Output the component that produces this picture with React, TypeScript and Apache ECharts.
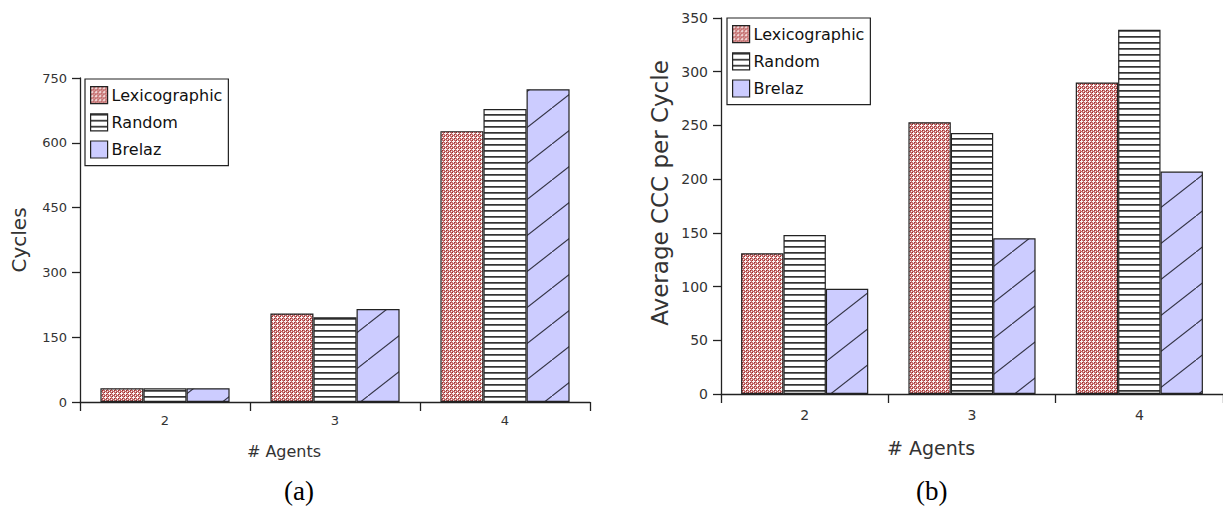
import React, { useEffect, useRef } from 'react';
import * as echarts from 'echarts';

// ---------- data ----------
const categories = ['2', '3', '4'];
const seriesNames = ['Lexicographic', 'Random', 'Brelaz'];

// (a) Cycles
const cyclesLexicographic = [32, 205, 627];
const cyclesRandom = [32, 196, 678];
const cyclesBrelaz = [32, 215, 724];
const cyclesAxisMax = 750;
const cyclesAxisStep = 150;

// (b) Average CCC per Cycle
const cccLexicographic = [131, 253, 290];
const cccRandom = [148, 243, 339];
const cccBrelaz = [98, 145, 207];
const cccAxisMax = 350;
const cccAxisStep = 50;

const panelCaptions = ['(a)', '(b)'];
const xAxisTitle = '# Agents';
const yAxisTitles = ['Cycles', 'Average CCC per Cycle'];

const FONT = 'DejaVu Sans';

function makeTile(w: number, h: number, draw: (ctx: CanvasRenderingContext2D) => void) {
  const c = document.createElement('canvas');
  c.width = w;
  c.height = h;
  const ctx = c.getContext('2d') as CanvasRenderingContext2D;
  draw(ctx);
  return { image: c.toDataURL(), repeat: 'repeat', imageWidth: w, imageHeight: h };
}

function buildPatterns() {
  const lex = makeTile(4, 4, (ctx) => {
    ctx.fillStyle = '#c36a6a';
    ctx.fillRect(0, 0, 4, 4);
    ctx.fillStyle = '#a22a2a';
    ctx.fillRect(0, 0, 1, 1);
    ctx.fillRect(2, 2, 1, 1);
    ctx.fillStyle = '#fbf2f2';
    const pts = [
      [1, 0], [0, 1], [1, 1], [2, 1], [1, 2], [3, 3],
    ];
    pts.forEach(([x, y]) => ctx.fillRect(x, y, 1, 1));
  });
  const random = makeTile(6, 6, (ctx) => {
    ctx.fillStyle = '#ffffff';
    ctx.fillRect(0, 0, 6, 6);
    ctx.fillStyle = '#333333';
    ctx.fillRect(0, 0, 6, 1);
    ctx.fillStyle = '#6a6a6a';
    ctx.fillRect(0, 1, 6, 1);
  });
  const brelaz = makeTile(46, 36, (ctx) => {
    ctx.fillStyle = '#ccccff';
    ctx.fillRect(0, 0, 46, 36);
    ctx.strokeStyle = '#333344';
    ctx.lineWidth = 1.1;
    ctx.beginPath();
    ctx.moveTo(-4, 39.13);
    ctx.lineTo(50, -3.13);
    ctx.stroke();
  });
  return { lex, random, brelaz };
}

export default function App() {
  const ref = useRef<HTMLDivElement>(null);

  useEffect(() => {
    if (!ref.current) return;
    const chart = echarts.init(ref.current, null, { renderer: 'svg' });
    const p = buildPatterns();
    const fills = [p.lex, p.random, p.brelaz];
    const legendFills = [p.lex, p.random, '#ccccff'];

    const axisLineStyle = { color: '#222', width: 1.3 };

    const legendFor = (left: number, top: number) => ({
      orient: 'vertical',
      left,
      top,
      padding: [7, 6, 7, 5],
      itemGap: 9,
      itemWidth: 17,
      itemHeight: 17,
      borderColor: '#222',
      borderWidth: 1.2,
      backgroundColor: '#fff',
      selectedMode: false,
      textStyle: { fontFamily: FONT, fontSize: 16, color: '#111', lineHeight: 17, padding: [0, 0, 0, -1] },
      data: seriesNames.map((n, i) => ({
        name: n,
        icon: 'rect',
        itemStyle: { color: legendFills[i], borderColor: '#222', borderWidth: 1.2 },
      })),
    });

    const makeSeries = (gridIdx: number, values: number[][]) =>
      values.map((v, i) => ({
        name: seriesNames[i],
        type: 'bar',
        xAxisIndex: gridIdx,
        yAxisIndex: gridIdx,
        data: v,
        barGap: '0%',
        barCategoryGap: '24%',
        itemStyle: { color: fills[i], borderColor: '#222', borderWidth: 1.2 },
        emphasis: { disabled: true },
      }));

    const option = {
      animation: false,
      backgroundColor: '#fff',
      legend: [legendFor(85, 79), legendFor(727, 18)],
      grid: [
        { left: 80, top: 78, width: 510, height: 324 },
        { left: 721, top: 18, width: 502, height: 376 },
      ],
      xAxis: [0, 1].map((g) => ({
        type: 'category',
        gridIndex: g,
        data: categories,
        boundaryGap: true,
        name: xAxisTitle,
        nameLocation: 'middle',
        nameGap: g === 0 ? 41 : 44,
        nameTextStyle: {
          fontFamily: FONT,
          fontSize: g === 0 ? 16 : 19,
          color: '#333',
          padding: g === 0 ? [0, 102, 0, 0] : [0, 82, 0, 0],
        },
        axisLine: { onZero: false, lineStyle: axisLineStyle },
        axisTick: { show: true, length: 9, lineStyle: axisLineStyle },
        axisLabel: { fontFamily: FONT, fontSize: g === 0 ? 13 : 14, color: '#333', margin: g === 0 ? 12 : 14 },
        splitLine: { show: false },
      })),
      yAxis: [0, 1].map((g) => ({
        type: 'value',
        gridIndex: g,
        min: 0,
        max: g === 0 ? cyclesAxisMax : cccAxisMax,
        interval: g === 0 ? cyclesAxisStep : cccAxisStep,
        name: yAxisTitles[g],
        nameLocation: 'middle',
        nameGap: g === 0 ? 51 : 50,
        nameTextStyle: {
          fontFamily: FONT,
          fontSize: g === 0 ? 20 : 23,
          color: '#333',
          padding: g === 0 ? [0, 0, 0, 0] : [0, 0, 0, 26],
        },
        axisLine: { show: true, lineStyle: axisLineStyle },
        axisTick: { show: true, length: 8, lineStyle: axisLineStyle },
        axisLabel: { fontFamily: FONT, fontSize: g === 0 ? 13 : 14, color: '#333', margin: 13 },
        splitLine: { show: false },
      })),
      series: [
        ...makeSeries(0, [cyclesLexicographic, cyclesRandom, cyclesBrelaz]),
        ...makeSeries(1, [cccLexicographic, cccRandom, cccBrelaz]),
      ],
      graphic: [
        {
          type: 'text',
          left: 284,
          top: 477,
          style: { text: panelCaptions[0], font: '27px "Liberation Serif"', fill: '#000' },
        },
        {
          type: 'text',
          left: 916,
          top: 477,
          style: { text: panelCaptions[1], font: '27px "Liberation Serif"', fill: '#000' },
        },
      ],
    };

    chart.setOption(option as any);
    return () => chart.dispose();
  }, []);

  return (
    <div
      ref={ref}
      style={{ position: 'absolute', left: 0, top: 0, width: 1223, height: 512, background: '#fff' }}
    />
  );
}
